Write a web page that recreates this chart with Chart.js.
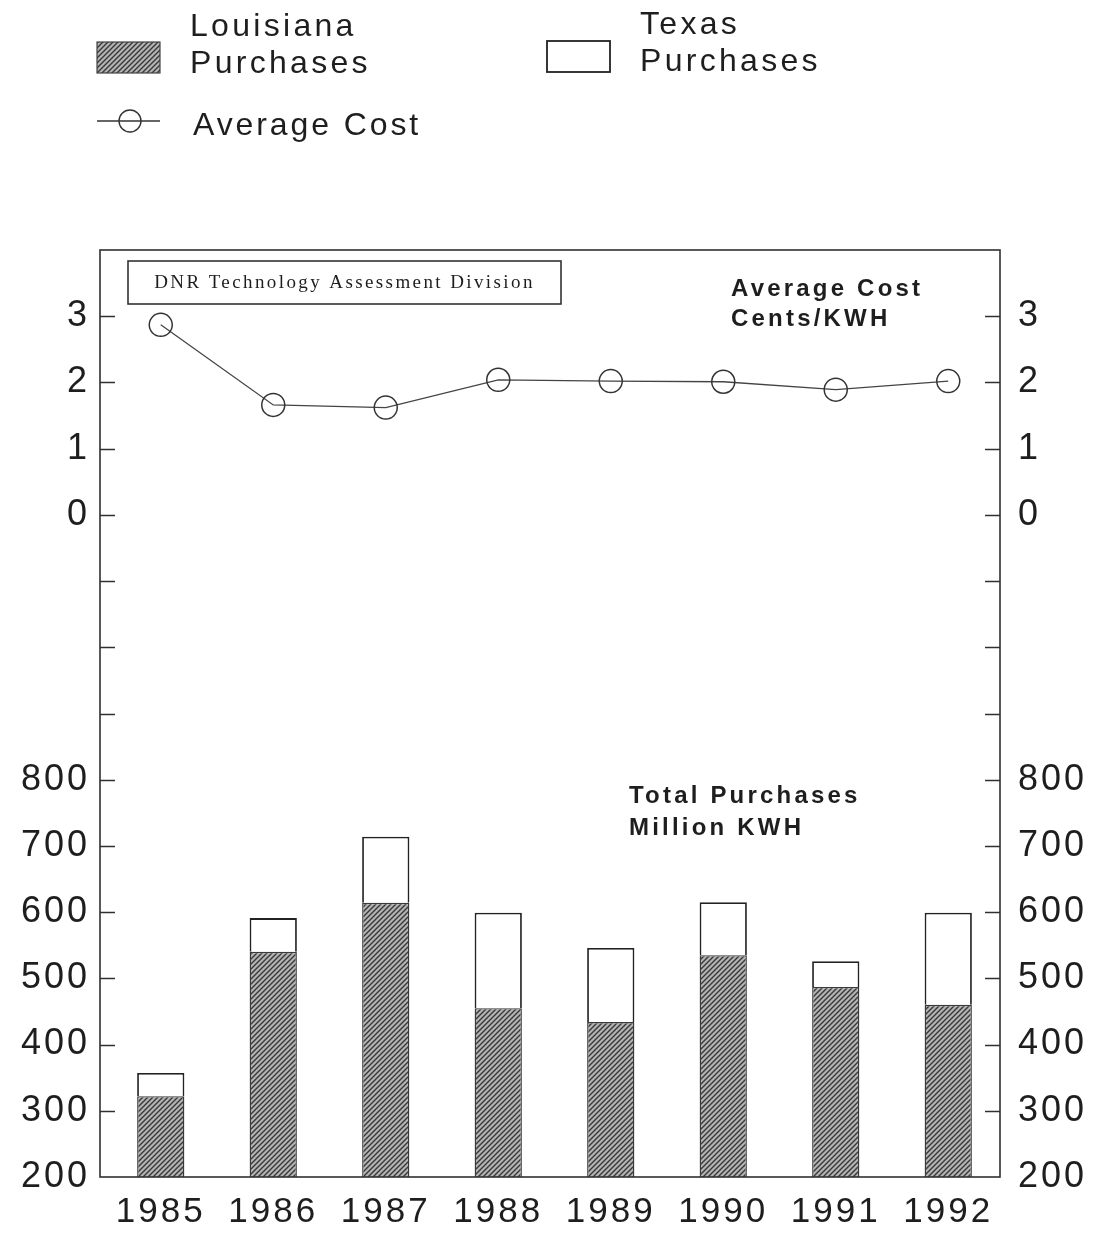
<!DOCTYPE html>
<html>
<head>
<meta charset="utf-8">
<script src="https://cdn.jsdelivr.net/npm/chart.js@4/dist/chart.umd.min.js"></script>
<style>
  html, body { margin: 0; padding: 0; background: #fff; }
  #wrap { width: 1102px; height: 1233px; }
</style>
</head>
<body>
<div id="wrap"><canvas id="c" width="1102" height="1233"></canvas></div>
<script>
// ---- data ----
const years = ['1985', '1986', '1987', '1988', '1989', '1990', '1991', '1992'];
const louisianaPurchases = [322, 540, 614, 455, 434, 535, 487, 460];
const texasPurchases = [35, 51, 100, 144, 112, 80, 39, 139];
const averageCost = [2.87, 1.66, 1.62, 2.04, 2.02, 2.01, 1.89, 2.02];
// shared vertical axis: purchases 200..800 on the lower part, cost 0..3 on the upper part
const axisTickValues = [200, 300, 400, 500, 600, 700, 800, 900, 1000, 1100, 1200, 1300, 1400, 1500, 1600];
const axisTickLabels = ['200', '300', '400', '500', '600', '700', '800', '', '', '', '0', '1', '2', '3', ''];
const costAxisMin = -10, costAxisMax = 4;

const FONT = '"Liberation Sans", Arial, Helvetica, sans-serif';
const SERIF = '"Liberation Serif", "Times New Roman", serif';
const INK = '#1e1e1e';

function hatchPattern() {
  const s = 5;
  const cv = document.createElement('canvas');
  cv.width = s; cv.height = s;
  const g = cv.getContext('2d');
  g.fillStyle = '#b4b4b4';
  g.fillRect(0, 0, s, s);
  g.strokeStyle = '#383838';
  g.lineWidth = 1.4;
  g.beginPath();
  g.moveTo(-1, s + 1); g.lineTo(s + 1, -1);
  g.moveTo(-1, 1); g.lineTo(1, -1);
  g.moveTo(s - 1, s + 1); g.lineTo(s + 1, s - 1);
  g.stroke();
  return g.createPattern(cv, 'repeat');
}

const ctx0 = document.getElementById('c').getContext('2d');
const hatch = hatchPattern();

function spacedText(ctx, text, x, y, font, spacing, align) {
  ctx.save();
  ctx.font = font;
  ctx.letterSpacing = spacing + 'px';
  ctx.fillStyle = INK;
  ctx.textAlign = align || 'left';
  ctx.textBaseline = 'alphabetic';
  ctx.fillText(text, x, y);
  ctx.restore();
}

const spacingPlugin = {
  id: 'spacing',
  beforeLayout(chart) { chart.ctx.letterSpacing = '3px'; },
  beforeDraw(chart) { chart.ctx.letterSpacing = '3px'; }
};

const decorPlugin = {
  id: 'decor',
  afterDraw(chart) {
    const ctx = chart.ctx;
    const a = chart.chartArea;
    const y = chart.scales.y;
    ctx.save();
    ctx.letterSpacing = '0px';
    // frame
    ctx.strokeStyle = '#303030';
    ctx.lineWidth = 1.6;
    ctx.strokeRect(a.left, a.top, a.right - a.left, a.bottom - a.top);
    // inside tick marks
    ctx.lineWidth = 1.6;
    ctx.beginPath();
    axisTickValues.forEach(v => {
      if (v <= y.min || v >= y.max) return;
      const py = Math.round(y.getPixelForValue(v)) + 0.5;
      ctx.moveTo(a.left, py); ctx.lineTo(a.left + 15, py);
      ctx.moveTo(a.right - 15, py); ctx.lineTo(a.right, py);
    });
    ctx.stroke();

    // legend
    ctx.fillStyle = hatch;
    ctx.fillRect(97, 42, 63, 31);
    ctx.strokeStyle = '#444';
    ctx.lineWidth = 1.2;
    ctx.strokeRect(97, 42, 63, 31);
    ctx.fillStyle = '#fff';
    ctx.strokeStyle = '#222';
    ctx.lineWidth = 1.8;
    ctx.strokeRect(547, 41, 63, 31);
    ctx.strokeStyle = '#333';
    ctx.lineWidth = 1.4;
    ctx.beginPath();
    ctx.moveTo(97, 121); ctx.lineTo(160, 121);
    ctx.stroke();
    ctx.beginPath();
    ctx.arc(130, 121, 11, 0, Math.PI * 2);
    ctx.stroke();
    ctx.restore();

    const lf = '32px ' + FONT;
    spacedText(ctx, 'Louisiana', 190, 36, lf, 3.3);
    spacedText(ctx, 'Purchases', 190, 73, lf, 3.3);
    spacedText(ctx, 'Texas', 640, 34, lf, 3.3);
    spacedText(ctx, 'Purchases', 640, 71, lf, 3.3);
    spacedText(ctx, 'Average Cost', 193, 135, lf, 2.9);

    // annotations
    const af = 'bold 24px ' + FONT;
    spacedText(ctx, 'Average Cost', 731, 296, af, 3.2);
    spacedText(ctx, 'Cents/KWH', 731, 326, af, 3.2);
    spacedText(ctx, 'Total Purchases', 629, 803, af, 3.2);
    spacedText(ctx, 'Million KWH', 629, 835, af, 3.2);

    // DNR box
    ctx.save();
    ctx.strokeStyle = '#333';
    ctx.lineWidth = 1.6;
    ctx.strokeRect(128, 261, 433, 43);
    ctx.restore();
    spacedText(ctx, 'DNR Technology Assessment Division', 344.5, 288, '19px ' + SERIF, 2.4, 'center');
  }
};

const chart = new Chart(ctx0, {
  type: 'bar',
  data: {
    datasets: [
      {
        label: 'Louisiana Purchases',
        data: louisianaPurchases.map((v, i) => ({ x: i, y: v })),
        backgroundColor: hatch,
        borderColor: '#3a3a3a',
        borderWidth: 1.4,
        stack: 'p'
      },
      {
        label: 'Texas Purchases',
        data: texasPurchases.map((v, i) => ({ x: i, y: v })),
        backgroundColor: '#ffffff',
        borderColor: '#222',
        borderWidth: 1.8,
        stack: 'p'
      },
      {
        label: 'Average Cost',
        type: 'line',
        data: averageCost.map((v, i) => ({ x: i, y: v })),
        yAxisID: 'yc',
        borderColor: '#444',
        borderWidth: 1.3,
        pointRadius: 11.5,
        pointBorderWidth: 1.5,
        pointBorderColor: '#333',
        pointBackgroundColor: 'rgba(0,0,0,0)',
        fill: false,
        tension: 0,
        stack: 'cost'
      }
    ]
  },
  options: {
    responsive: false,
    devicePixelRatio: 1,
    animation: false,
    events: [],
    layout: { padding: { top: 250, left: 0, right: 0, bottom: 0 } },
    datasets: { bar: { barPercentage: 0.42, categoryPercentage: 1 } },
    plugins: { legend: { display: false }, tooltip: { enabled: false }, title: { display: false } },
    scales: {
      x: {
        type: 'linear',
        offset: false,
        stacked: true,
        min: -0.54,
        max: 7.46,
        grid: { display: false, drawTicks: false, offset: false },
        border: { display: false },
        afterBuildTicks: s => { s.ticks = years.map((_, i) => ({ value: i })); },
        ticks: {
          autoSkip: false,
          maxRotation: 0,
          padding: 14,
          color: INK,
          font: { family: FONT, size: 35 },
          callback: v => years[v] !== undefined ? years[v] : ''
        },
        afterFit: s => { s.height = 56; }
      },
      y: {
        position: 'left',
        stacked: true,
        min: 200,
        max: 1600,
        grid: { display: false, drawTicks: false },
        border: { display: false },
        afterBuildTicks: s => { s.ticks = axisTickValues.map(v => ({ value: v })); },
        ticks: {
          autoSkip: false,
          padding: 10,
          color: INK,
          font: { family: FONT, size: 36 },
          callback: v => { const k = axisTickValues.indexOf(v); return k >= 0 ? axisTickLabels[k] : ''; }
        },
        afterFit: s => { s.width = 100; }
      },
      y2: {
        position: 'right',
        min: 200,
        max: 1600,
        grid: { display: false, drawTicks: false },
        border: { display: false },
        afterBuildTicks: s => { s.ticks = axisTickValues.map(v => ({ value: v })); },
        ticks: {
          autoSkip: false,
          padding: 18,
          color: INK,
          font: { family: FONT, size: 36 },
          callback: v => { const k = axisTickValues.indexOf(v); return k >= 0 ? axisTickLabels[k] : ''; }
        },
        afterFit: s => { s.width = 102; }
      },
      yc: {
        display: false,
        min: costAxisMin,
        max: costAxisMax,
        stacked: false
      }
    }
  },
  plugins: [spacingPlugin, decorPlugin]
});
</script>
</body>
</html>
